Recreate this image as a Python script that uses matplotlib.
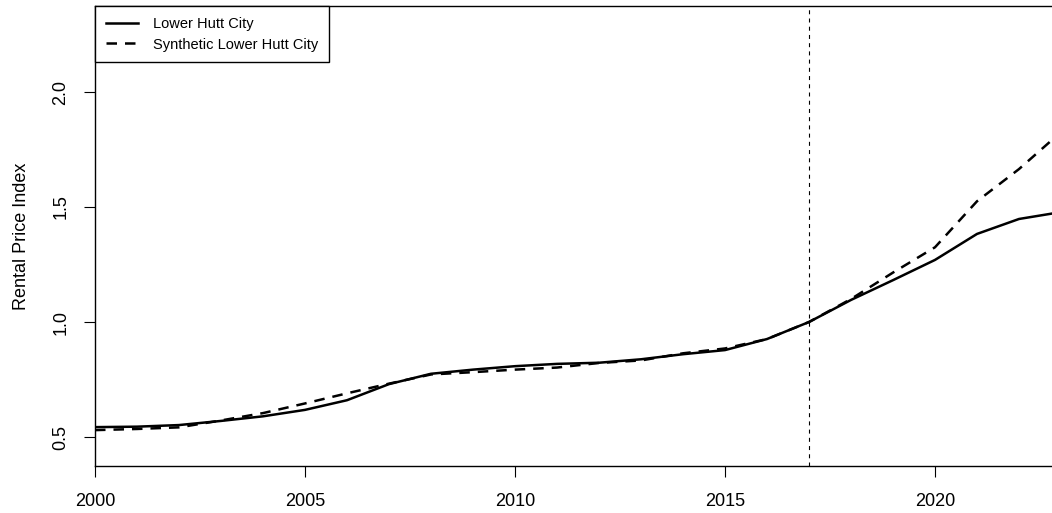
import matplotlib
matplotlib.use("Agg")
import matplotlib.pyplot as plt

years = list(range(2000, 2024))
lower_hutt = [0.543, 0.545, 0.552, 0.570, 0.590, 0.618, 0.660, 0.730, 0.775, 0.793,
              0.808, 0.818, 0.823, 0.838, 0.860, 0.878, 0.926, 1.000, 1.096, 1.182,
              1.270, 1.383, 1.448, 1.478]
synthetic = [0.530, 0.535, 0.542, 0.572, 0.604, 0.646, 0.690, 0.732, 0.772, 0.782,
             0.793, 0.802, 0.822, 0.833, 0.864, 0.885, 0.926, 1.000, 1.100, 1.215,
             1.325, 1.525, 1.665, 1.826]
treatment_year = 2017
x_ticks = [2000, 2005, 2010, 2015, 2020]
y_ticks = [0.5, 1.0, 1.5, 2.0]

plt.rcParams["font.family"] = ["Liberation Sans", "DejaVu Sans"]

W, H = 1052, 513
fig = plt.figure(figsize=(W / 100, H / 100), dpi=100)
ax = fig.add_axes([95 / W, 47 / H, (1061 - 95) / W, (466 - 6) / H])

ax.plot(years, lower_hutt, color="black", lw=1.8, linestyle="-",
        label="Lower Hutt City", solid_joinstyle="round")
ax.plot(years, synthetic, color="black", lw=1.8, linestyle=(0, (4.2, 3.2)),
        label="Synthetic Lower Hutt City")
ax.axvline(treatment_year, color="black", lw=0.8, linestyle=(0, (3.6, 3.8)))

ax.set_xlim(2000, 2023)
ax.set_ylim(0.374, 2.374)
ax.set_xticks(x_ticks)
ax.set_yticks(y_ticks)
ax.set_xticklabels([str(t) for t in x_ticks], fontsize=13)
ax.set_yticklabels([f"{t:.1f}" for t in y_ticks], fontsize=13, rotation=90,
                   va="center")
ax.tick_params(axis="both", direction="out", length=8, width=0.8, color="black")
ax.tick_params(axis="x", pad=11.5)
ax.tick_params(axis="y", pad=10.5)
for s in ax.spines.values():
    s.set_linewidth(1.0)
    s.set_color("black")

ax.set_ylabel("Rental Price Index", fontsize=13, labelpad=16)

leg = ax.legend(loc="upper left", fontsize=10.5, frameon=True, fancybox=False,
                borderaxespad=0, handlelength=2.2, handletextpad=1.0,
                borderpad=0.75, labelspacing=0.45, edgecolor="black",
                framealpha=1)
leg.get_frame().set_linewidth(1.0)

fig.savefig("out.png", dpi=100)
